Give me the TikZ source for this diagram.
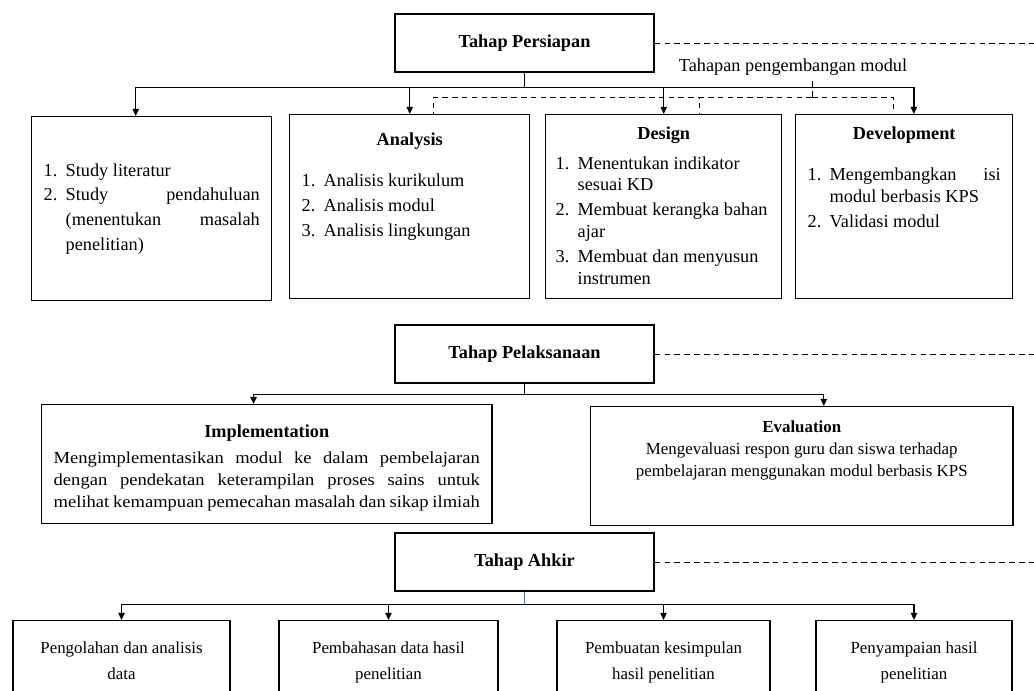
\documentclass[tikz,border=0pt,12pt]{standalone}
\usepackage{fontspec}
\setmainfont{Liberation Serif}
\newfontfamily\lebar[FakeStretch=1.1]{Liberation Serif}
\usetikzlibrary{arrows.meta, positioning}
\definecolor{biru}{RGB}{68,114,196}
\hyphenpenalty=10000
\exhyphenpenalty=10000
% kotak teks ukuran tetap (lebar, tinggi, isi), rata atas
\newcommand{\kotak}[4][t]{\parbox[c][#3][#1]{#2}{#4}}
% butir bernomor dengan indentasi gantung
\newcommand{\butir}[2]{\par\hangindent=0.55cm\hangafter=1\noindent\makebox[0.55cm][l]{#1}#2\par}
\tikzset{
  tahap/.style={rectangle, draw, line width=1pt, minimum width=6.475cm,
                minimum height=1.45cm, font=\fontsize{13}{16}\selectfont\bfseries},
  % kotak isi tiap tahap
  isi/.style={rectangle, draw, line width=1pt, anchor=north west,
              inner ysep=0pt, inner xsep=0.3cm, font=\fontsize{13}{15.5}\selectfont},
  % kotak isi tahap pelaksanaan
  isikecil/.style={isi, font=\fontsize{12}{15.5}\selectfont},
  % kotak hasil tahap akhir
  hasil/.style={rectangle, draw, line width=1pt, anchor=north,
                inner sep=0pt, font=\fontsize{12}{19}\selectfont},
  ar/.style={-{Triangle[length=1.8mm, width=1.6mm]}, line width=1pt},
  putus/.style={line width=0.7pt, dash pattern=on 4pt off 3pt},
  lbl/.style={font=\fontsize{13}{15}\selectfont}
}

\begin{document}
\begin{tikzpicture}[x=0.025cm, y=-0.025cm]
  \useasboundingbox (0,0) rectangle (1034,691);
  \clip (0,0) rectangle (1034,691);
  \coordinate (kanan) at (1034,0);

  % tahap persiapan
  \node[tahap] (prep) at (524.5,43) {Tahap Persiapan};
  \node[lbl] (tpm) at (793,67) {Tahapan pengembangan modul};
  \node[isi, font=\fontsize{13}{17.5}\selectfont] (a1) at (31,116) {\kotak[c]{5.4cm}{4.6cm}{%
      \butir{1.}{Study literatur}
      \butir{2.}{Study pendahuluan (menentukan masalah penelitian)}}};
  \node[isi] (an) at (289,114) {\kotak{5.4cm}{4.6cm}{%
      \vspace*{0.45cm}{\centering\bfseries Analysis\par}\vspace{0.4cm}
      \setlength{\parskip}{0.08cm}
      \butir{1.}{Analisis kurikulum}
      \butir{2.}{Analisis modul}
      \butir{3.}{Analisis lingkungan}}};
  \node[isi, inner xsep=0.25cm] (de) at (545,114) {\kotak{5.4cm}{4.6cm}{%
      \vspace*{0.3cm}{\centering\bfseries Design\par}\vspace{0.12cm}
      \setlength{\parskip}{0.08cm}\raggedright
      \butir{1.}{Menentukan indikator sesuai KD}
      \butir{2.}{Membuat kerangka bahan ajar}
      \butir{3.}{Membuat dan menyusun instrumen}}};
  \node[isi] (dv) at (795,114) {\kotak{4.825cm}{4.6cm}{%
      \vspace*{0.3cm}{\centering\bfseries Development\par}\vspace{0.4cm}
      \setlength{\parskip}{0.08cm}
      \butir{1.}{Mengembangkan isi modul berbasis KPS}
      \butir{2.}{Validasi modul}}};

  \coordinate (a1t) at ([xshift=-0.4cm]a1.north);
  \coordinate (dvt) at ([xshift=0.24cm]dv.north);
  \draw[putus] (prep.east) -- (prep.east -| kanan);
  \draw[line width=1pt] (prep.south) -- ++(0,15) coordinate (pb);
  \foreach \t in {a1t, an, de, dvt}
    \draw[ar] (pb) -| (\t);
  % garis putus tahapan pengembangan
  \coordinate (lb) at (812,97);
  \draw[putus] (tpm.south -| lb) -- (lb);
  \draw[putus] (lb) -| ([xshift=0.6cm]an.north);
  \draw[putus] (lb) -| ([xshift=0.9cm]de.north);
  \draw[putus] (lb) -| ([xshift=-0.26cm]dv.north);

  % tahap pelaksanaan
  \node[tahap] (pel) at (524.5,354) {Tahap Pelaksanaan};
  \node[isikecil] (imp) at (41,404) {\kotak{10.65cm}{2.975cm}{%
      \vspace*{0.5cm}{\centering\fontsize{13}{15.5}\selectfont\bfseries Implementation\par}\vspace{0.12cm}
      {\lebar\parfillskip=0pt Mengimplementasikan modul ke dalam pembelajaran\linebreak
       dengan pendekatan keterampilan proses sains untuk\linebreak
       melihat kemampuan pemecahan masalah dan sikap ilmiah\par}}};
  \node[isikecil] (eva) at (590,406) {\kotak{9.95cm}{2.975cm}{%
      \vspace*{0.35cm}{\centering{\bfseries Evaluation}\par
       Mengevaluasi respon guru dan siswa terhadap\\
       pembelajaran menggunakan modul berbasis KPS\par}}};
  \draw[putus] (pel.east) -- (pel.east -| kanan);
  \draw[line width=1pt] (pel.south) -- ++(0,11) coordinate (lb2);
  \draw[ar] (lb2) -| ([xshift=-0.33cm]imp.north);
  \draw[ar] (lb2) -| ([xshift=0.55cm]eva.north);

  % tahap akhir
  \node[tahap] (akh) at (524.5,562) {Tahap Ahkir};
  \node[hasil] (h1) at (121.5,620) {\kotak{5.425cm}{3cm}{%
      \vspace*{0.52cm}\centering Pengolahan dan analisis\\data}};
  \node[hasil] (h2) at (388.5,620) {\kotak{5.475cm}{3cm}{%
      \vspace*{0.52cm}\centering Pembahasan data hasil\\penelitian}};
  \node[hasil] (h3) at (663.5,620) {\kotak{5.325cm}{3cm}{%
      \vspace*{0.52cm}\centering Pembuatan kesimpulan\\hasil penelitian}};
  \node[hasil] (h4) at (914,620) {\kotak{4.9cm}{3cm}{%
      \vspace*{0.52cm}\centering Penyampaian hasil\\penelitian}};
  \draw[putus] (akh.east) -- (akh.east -| kanan);
  \draw[biru, line width=1pt] (akh.south) -- ++(0,13) coordinate (hb);
  \foreach \t in {h1, h2, h3, h4}
    \draw[ar] (hb) -| (\t.north);
\end{tikzpicture}
\end{document}
